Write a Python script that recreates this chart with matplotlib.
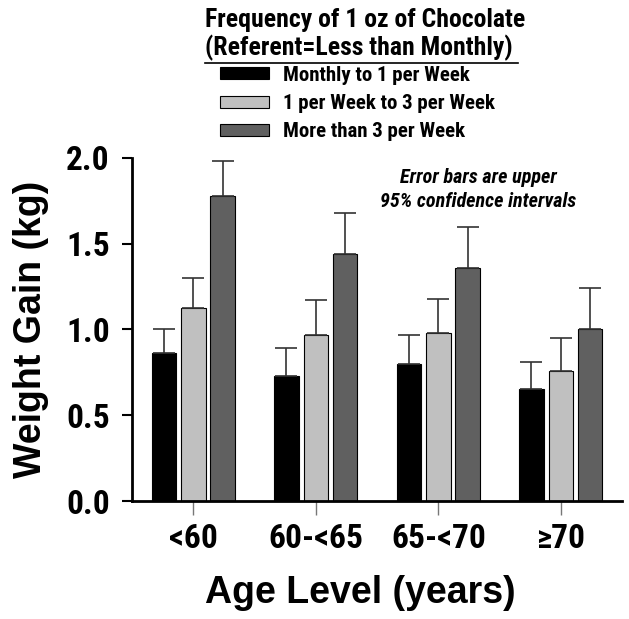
import numpy as np
import matplotlib
matplotlib.use('Agg')
import matplotlib.pyplot as plt
from matplotlib.lines import Line2D

# data
age_groups = ['<60', '60-<65', '65-<70', '\u226570']
series_names = ['Monthly to 1 per Week', '1 per Week to 3 per Week', 'More than 3 per Week']
monthly_1wk = [0.86, 0.73, 0.80, 0.65]
wk1_wk3 = [1.125, 0.97, 0.98, 0.76]
more_3wk = [1.775, 1.44, 1.36, 1.005]
upper_monthly_1wk = [1.00, 0.89, 0.965, 0.81]
upper_wk1_wk3 = [1.30, 1.17, 1.175, 0.95]
upper_more_3wk = [1.98, 1.68, 1.595, 1.24]

colors = ['#000000', '#c0c0c0', '#606060']
narrow = ['Roboto Condensed', 'Liberation Sans', 'DejaVu Sans']
wide = ['Liberation Sans', 'DejaVu Sans']

fig = plt.figure(figsize=(6.29, 6.19), dpi=100)
ax = fig.add_axes([0.21, 0.1906, 0.779, 0.5544])

x = np.arange(len(age_groups))
offsets = [-0.24, 0, 0.24]
vals = [monthly_1wk, wk1_wk3, more_3wk]
uppers = [upper_monthly_1wk, upper_wk1_wk3, upper_more_3wk]
handles = []
for i in range(3):
    v = np.array(vals[i])
    err = np.array(uppers[i]) - v
    b = ax.bar(x + offsets[i], v, 0.2, color=colors[i], edgecolor='black', linewidth=0.8,
               yerr=[np.zeros_like(v), err], capsize=8,
               error_kw=dict(ecolor='#333333', elinewidth=1.2, capthick=1.2),
               label=series_names[i])
    handles.append(b)

ax.set_xlim(-0.5, 3.5)
ax.set_ylim(0, 2.0)
ax.set_yticks([0, 0.5, 1.0, 1.5, 2.0])
ax.set_yticklabels(['0.0', '0.5', '1.0', '1.5', '2.0'], family=narrow, fontsize=24, fontweight='bold')
ax.set_xticks(x)
ax.set_xticklabels(age_groups, family=narrow, fontsize=24, fontweight='bold')
ax.tick_params(axis='x', length=10, color='#777777', width=1, pad=6)
ax.tick_params(axis='y', length=7, width=1.5, pad=9)
for s in ['top', 'right']:
    ax.spines[s].set_visible(False)
ax.spines['left'].set_linewidth(2)
ax.spines['bottom'].set_linewidth(2)

ax.set_ylabel('Weight Gain (kg)', family=wide, fontsize=27, fontweight='bold', labelpad=12)
ax.set_xlabel('Age Level (years)', family=wide, fontsize=27, fontweight='bold')
ax.xaxis.set_label_coords(0.465, -0.215)

# note inside the plot
ax.text(0.706, 0.908, 'Error bars are upper\n95% confidence intervals', transform=ax.transAxes,
        ha='center', va='center', family=narrow, fontsize=14.5, fontweight='bold',
        style='italic', linespacing=1.35)

# legend title, second line underlined
fig.text(0.326, 0.957, 'Frequency of 1 oz of Chocolate', ha='left', va='baseline',
         family=narrow, fontsize=18.5, fontweight='bold')
fig.text(0.326, 0.910, '(Referent=Less than Monthly)', ha='left', va='baseline',
         family=narrow, fontsize=18.5, fontweight='bold')
fig.add_artist(Line2D([0.326, 0.824], [0.898, 0.898], transform=fig.transFigure,
                      color='black', linewidth=1.2))

fig.legend(handles=handles, labels=series_names, loc='upper left',
           bbox_to_anchor=(0.35, 0.894), frameon=False, borderaxespad=0, borderpad=0,
           prop=dict(family=narrow, size=15, weight='bold'),
           handlelength=2.35, handleheight=0.5, labelspacing=0.45, handletextpad=0.68)

fig.savefig('out.png', dpi=100)
